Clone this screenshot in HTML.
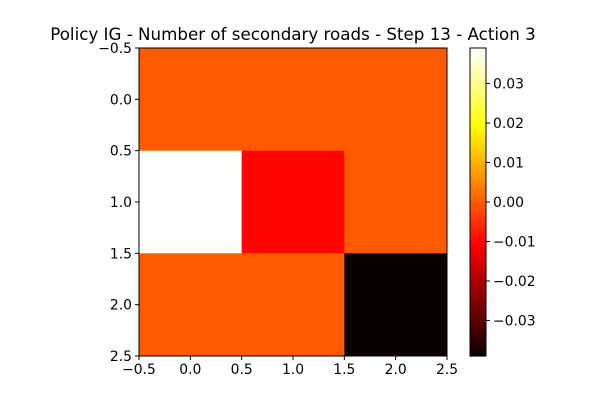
<!DOCTYPE html>
<html><head><meta charset="utf-8"><style>body{margin:0;background:#fff}svg{display:block;font-family:"DejaVu Sans","Liberation Sans",sans-serif}</style></head>
<body>
<svg id="chart" width="600" height="400" xmlns="http://www.w3.org/2000/svg"></svg>
<script>
const rowLabels = [0, 1, 2];
const colLabels = [0, 1, 2];
const cellValues = [
  [0, 0, 0],
  [0.039, -0.010, 0],
  [0, 0, -0.039]
];
const axisTicks = ["-0.5", "0.0", "0.5", "1.0", "1.5", "2.0", "2.5"];
const cbTicks = [0.03, 0.02, 0.01, 0.00, -0.01, -0.02, -0.03];
const vmin = -0.039, vmax = 0.039;

const NS = "http://www.w3.org/2000/svg";
const svg = document.getElementById("chart");
const L = 139, R = 447, T = 48, B = 356;
const xs = v => L + (v + 0.5) / 3 * (R - L);
const ys = v => T + (v + 0.5) / 3 * (B - T);
const CBL = 470, CBR = 486;
const cy = v => B - (v - vmin) / (vmax - vmin) * (B - T);
function hot(n) {
  n = Math.max(0, Math.min(1, n));
  const r = Math.min(1, 0.0416 + n / 0.365 * (1 - 0.0416));
  const g = Math.max(0, Math.min(1, (n - 0.365) / 0.381));
  const b = Math.max(0, Math.min(1, (n - 0.746) / 0.254));
  return `rgb(${Math.round(r*255)},${Math.round(g*255)},${Math.round(b*255)})`;
}
function el(tag, attrs, text) {
  const e = document.createElementNS(NS, tag);
  for (const k in attrs) e.setAttribute(k, attrs[k]);
  if (text !== undefined) e.textContent = text;
  svg.appendChild(e);
  return e;
}
cellValues.forEach((row, i) => row.forEach((v, j) => {
  const r = el("rect", {x: xs(colLabels[j] - 0.5), y: ys(rowLabels[i] - 0.5), width: xs(0.5) - xs(-0.5) + 0.5, height: ys(0.5) - ys(-0.5) + 0.5, fill: hot((v - vmin) / (vmax - vmin))});
  
  
}));
const frame = el("rect", {x: L, y: T, width: R - L, height: B - T, fill: "none", stroke: "#000", "stroke-width": 1});


axisTicks.forEach(t => {
  const v = parseFloat(t);
  const x = xs(v), y = ys(v);
  el("line", {x1: x, x2: x, y1: B, y2: B + 4, stroke: "#000"});
  const tx = el("text", {x: x, y: B + 18, "font-size": 13.9, "text-anchor": "middle"}, t.replace("-", "\u2212"));
  
  
  el("line", {x1: L - 4, x2: L, y1: y, y2: y, stroke: "#000"});
  const ty = el("text", {x: L - 7, y: y + 5, "font-size": 13.9, "text-anchor": "end"}, t.replace("-", "\u2212"));
  
  
});
for (let k = 0; k < 200; k++) {
  const n0 = k / 200;
  el("rect", {x: CBL, y: B - (k + 1) / 200 * (B - T), width: CBR - CBL, height: (B - T) / 200 + 0.6, fill: hot(n0 + 0.0025)});
}
const cb = el("rect", {x: CBL, y: T, width: CBR - CBL, height: B - T, fill: "none", stroke: "#000"});


cbTicks.forEach(v => {
  const y = cy(v);
  el("line", {x1: CBR, x2: CBR + 4, y1: y, y2: y, stroke: "#000"});
  const t = el("text", {x: CBR + 7, y: y + 5, "font-size": 13.9}, v.toFixed(2).replace("-", "\u2212"));
  
  
});
const title = el("text", {x: 293, y: 40, "font-size": 16.7, "text-anchor": "middle"}, "Policy IG - Number of secondary roads - Step 13 - Action 3");


</script>
</body></html>
